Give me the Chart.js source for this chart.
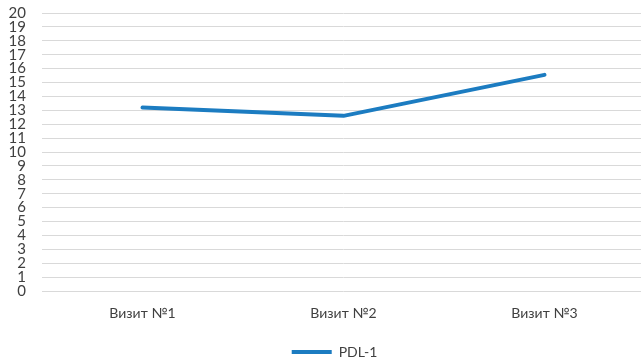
<!DOCTYPE html>
<html>
<head>
<meta charset="utf-8">
<script src="https://cdn.jsdelivr.net/npm/chart.js@4/dist/chart.umd.min.js"></script>
<style>
  html, body { margin: 0; padding: 0; background: #ffffff; overflow: hidden; }
  #wrap { width: 645px; height: 362px; }
</style>
</head>
<body>
<div id="wrap"><canvas id="chart"></canvas></div>
<script>
// Visit labels and measured PDL-1 level
const categories = ['Визит №1', 'Визит №2', 'Визит №3'];
const pdl1Values = [13.2, 12.6, 15.55];
const seriesName = 'PDL-1';
// Y axis range
const yMin = 0;
const yMax = 20;
const yStep = 1;

const lineColor = '#1c7cc1';
const gridColor = '#d9d9d9';
const textColor = '#404040';

// nudges the legend row after layout
const legendShift = {
  id: 'legendShift',
  afterLayout(chart) {
    const lg = chart.legend;
    if (lg) {
      lg.left += 12; lg.right += 12;
      lg.top += 7; lg.bottom += 7;
    }
  }
};

new Chart(document.getElementById('chart'), {
  type: 'line',
  data: {
    labels: categories,
    datasets: [{
      label: seriesName,
      data: pdl1Values,
      borderColor: lineColor,
      backgroundColor: lineColor,
      borderWidth: 4,
      borderCapStyle: 'round',
      borderJoinStyle: 'round',
      pointRadius: 0,
      pointHoverRadius: 0,
      tension: 0,
      pointStyle: 'line'
    }]
  },
  plugins: [legendShift],
  options: {
    responsive: true,
    maintainAspectRatio: false,
    animation: false,
    layout: { padding: { top: 13, left: 0, right: 0, bottom: 0 } },
    plugins: {
      tooltip: { enabled: false },
      legend: {
        position: 'bottom',
        labels: {
          usePointStyle: true,
          pointStyleWidth: 40,
          boxHeight: 4,
          padding: 4,
          color: textColor,
          font: { family: 'Lato', size: 14 }
        }
      }
    },
    scales: {
      x: {
        type: 'category',
        offset: true,
        grid: { display: false, drawTicks: false },
        border: { display: false },
        ticks: {
          color: textColor,
          padding: 14,
          maxRotation: 0,
          font: { family: 'Lato', size: 14 }
        },
        afterFit(scale) {
          scale.height = 43;
          scale.paddingLeft = 0;
          scale.paddingRight = 0;
        }
      },
      y: {
        min: yMin,
        max: yMax,
        ticks: {
          stepSize: yStep,
          autoSkip: false,
          color: textColor,
          padding: 16,
          font: { family: 'Lato', size: 15 }
        },
        grid: { color: gridColor, lineWidth: 1, drawTicks: false },
        border: { display: false },
        afterFit(scale) {
          scale.width = 42;
          scale.paddingTop = 0;
          scale.paddingBottom = 0;
        }
      }
    }
  }
});
</script>
</body>
</html>
